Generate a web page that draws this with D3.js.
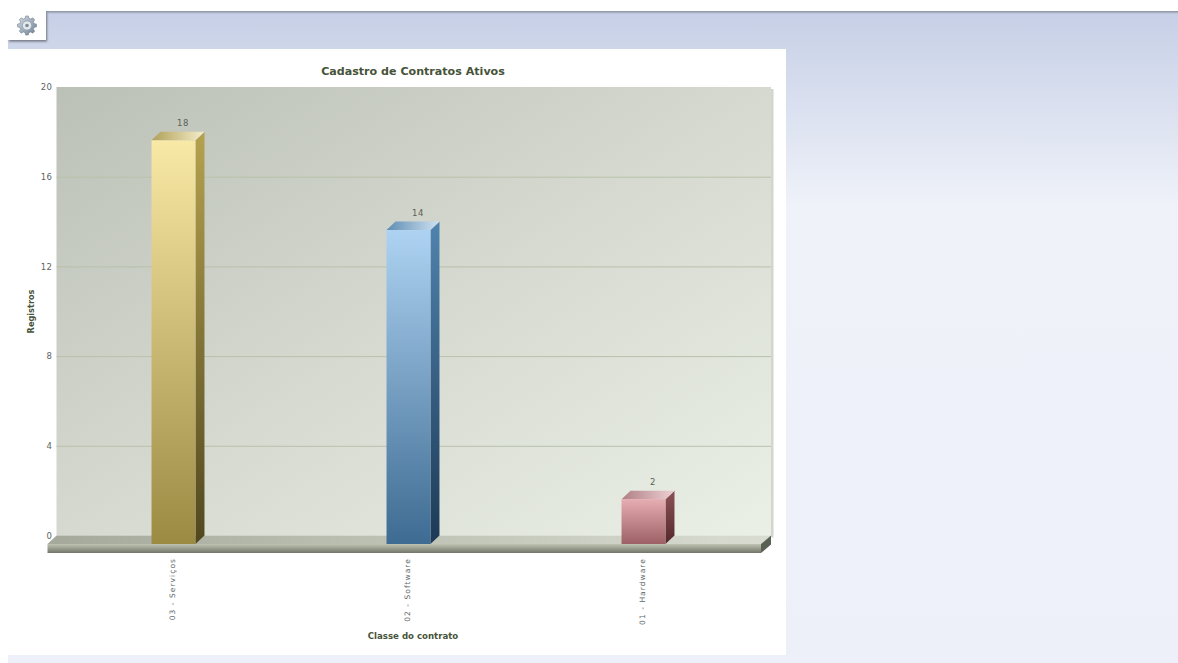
<!DOCTYPE html>
<html>
<head>
<meta charset="utf-8">
<script src="https://cdn.jsdelivr.net/npm/d3@7"></script>
<style>
  html, body { margin: 0; padding: 0; background: #fff; overflow: hidden; }
  text { font-family: "DejaVu Sans", sans-serif; }
</style>
</head>
<body>
<div id="chart"></div>
<script>
const categories = ['03 - Serviços', '02 - Software', '01 - Hardware'];
const values = [18, 14, 2];
const yTicks = [0, 4, 8, 12, 16, 20];
const chartTitle = 'Cadastro de Contratos Ativos';
const xTitle = 'Classe do contrato';
const yTitle = 'Registros';

const barColors = [
  { front: ['#f9e9a6', '#9a8a42'], side: ['#b5a24f', '#51471f'], top: ['#b0a058', '#f5eecb'] },
  { front: ['#aed3f2', '#3e6b92'], side: ['#4f83ae', '#1d3a56'], top: ['#5f8db3', '#cfe2f2'] },
  { front: ['#e6adb2', '#9c6065'], side: ['#8c5257', '#54282c'], top: ['#b07f85', '#edd0d3'] },
];

const width = 1178;
const height = 663;
const svgNS = d3.select('#chart').append('svg').attr('width', width).attr('height', height).style('display', 'block');
const defs = svgNS.append('defs');

const addGradient = (id, stops, x2 = 0, y2 = 1) => {
  const g = defs.append('linearGradient').attr('id', id)
    .attr('x1', 0).attr('y1', 0).attr('x2', x2).attr('y2', y2);
  stops.forEach(([offset, color]) => {
    g.append('stop').attr('offset', offset).attr('stop-color', color);
  });
};

addGradient('pageBg', [[0, '#c6cfe6'], [0.3, '#eff2f9'], [1, '#edf0f9']]);
addGradient('wallBg', [[0, '#bcc1b7'], [0.5, '#d5d9cf'], [1, '#ebf0e7']], 1, 1);
addGradient('floorTop', [[0, '#a5a99c'], [1, '#d9dcd0']], 1, 0);
addGradient('floorFront', [[0, '#bfc3b2'], [1, '#72766a']]);
addGradient('iconGear', [[0, '#d5dce4'], [1, '#6d8095']], 1, 1);
defs.append('filter').attr('id', 'softShadow').attr('x', '-20%').attr('y', '-20%').attr('width', '140%').attr('height', '140%')
  .append('feGaussianBlur').attr('stdDeviation', 1);
barColors.forEach((c, i) => {
  addGradient(`front${i}`, [[0, c.front[0]], [1, c.front[1]]]);
  addGradient(`side${i}`, [[0, c.side[0]], [1, c.side[1]]]);
  addGradient(`top${i}`, [[0, c.top[0]], [1, c.top[1]]], 1, 0);
});

// page background
svgNS.append('rect').attr('x', 8).attr('y', 11).attr('width', width - 8).attr('height', height - 11).attr('fill', 'url(#pageBg)');
addGradient('topShadow', [[0, '#8a90a0'], [1, '#c6cfe6']]);
svgNS.append('rect').attr('x', 8).attr('y', 11).attr('width', width - 8).attr('height', 3).attr('fill', 'url(#topShadow)');

// settings button
const icon = svgNS.append('g');
icon.append('rect').attr('x', 9).attr('y', 12).attr('width', 38).attr('height', 29.5).attr('fill', '#70757f').attr('filter', 'url(#softShadow)');
icon.append('rect').attr('x', 7).attr('y', 9).attr('width', 39).attr('height', 31).attr('fill', '#fff');
const teeth = d3.range(8);
const gearPoints = teeth.flatMap((i) => {
  const a = (i / 8) * 2 * Math.PI;
  return [-0.26, -0.14, 0.14, 0.26].map((da, k) => {
    const r = k === 0 || k === 3 ? 7.4 : 9.6;
    const t = a + da;
    return [Math.cos(t) * r, Math.sin(t) * r];
  });
});
const gear = icon.append('g').attr('transform', 'translate(27,25.5)');
gear.append('path').attr('d', d3.line().curve(d3.curveLinearClosed)(gearPoints))
  .attr('fill', 'url(#iconGear)').attr('stroke', '#74838f').attr('stroke-width', 0.6);
gear.append('circle').attr('r', 4.6).attr('fill', '#e4e9ee').attr('stroke', '#8b99a6').attr('stroke-width', 0.7);
gear.append('circle').attr('r', 1.8).attr('fill', '#7c8b9a');

// white chart panel
svgNS.append('rect').attr('x', 8).attr('y', 49).attr('width', 778).attr('height', 606).attr('fill', '#fff');

const dx = 9;
const dy = 8.5;
const wallLeft = 56.5;
const wallRight = 771;

const y = d3.scaleLinear().domain([0, 20]).range([535.5, 87]);
const x = d3.scaleBand().domain(categories).range([56, 761]).paddingInner(0.813).paddingOuter(0.4065);

// back wall
svgNS.append('rect').attr('x', wallRight).attr('y', y(20) + 2).attr('width', 2.5).attr('height', y(0) - y(20))
  .attr('fill', '#d3d6cc');
svgNS.append('rect').attr('x', wallLeft).attr('y', y(20)).attr('width', wallRight - wallLeft).attr('height', y(0) - y(20))
  .attr('fill', 'url(#wallBg)');

// gridlines
svgNS.append('g').selectAll('line').data(yTicks.filter((d) => d > 0 && d < 20)).join('line')
  .attr('x1', wallLeft).attr('x2', wallRight)
  .attr('y1', (d) => y(d) + 0.5).attr('y2', (d) => y(d) + 0.5)
  .attr('stroke', '#b9c1ac').attr('stroke-width', 1);

// y axis labels
const yAxis = d3.axisLeft(y).tickValues(yTicks).tickSize(0).tickPadding(4);
const yAxisG = svgNS.append('g').attr('transform', `translate(${wallLeft},0)`).call(yAxis);
yAxisG.select('.domain').remove();
yAxisG.selectAll('text').attr('font-size', 8.5).attr('fill', '#5d6464').style('letter-spacing', '0.5px');

// floor
const floorY = y(0);
const floorFrontX = wallLeft - dx;
const floorFrontRight = wallRight - dx - 1;
const poly = d3.line().curve(d3.curveLinearClosed);
svgNS.append('path')
  .attr('d', poly([[wallLeft, floorY], [wallRight, floorY], [floorFrontRight, floorY + dy], [floorFrontX, floorY + dy]]))
  .attr('fill', 'url(#floorTop)');
svgNS.append('rect').attr('x', floorFrontX).attr('y', floorY + dy).attr('width', floorFrontRight - floorFrontX).attr('height', 9)
  .attr('fill', 'url(#floorFront)');
svgNS.append('path')
  .attr('d', poly([[floorFrontRight, floorY + dy], [wallRight, floorY], [wallRight, floorY + 9], [floorFrontRight, floorY + dy + 9]]))
  .attr('fill', '#596054');

// bars
const bars = svgNS.append('g').selectAll('g').data(categories).join('g');
bars.each(function (cat, i) {
  const g = d3.select(this);
  const x0 = x(cat);
  const x1 = x0 + x.bandwidth();
  const yTop = y(values[i]) + dy;
  const yBase = y(0) + dy;
  g.append('path')
    .attr('d', poly([[x1, yTop], [x1 + dx, yTop - dy], [x1 + dx, yBase - dy], [x1, yBase]]))
    .attr('fill', `url(#side${i})`);
  g.append('path')
    .attr('d', poly([[x0, yTop], [x0 + dx, yTop - dy], [x1 + dx, yTop - dy], [x1, yTop]]))
    .attr('fill', `url(#top${i})`);
  g.append('rect')
    .attr('x', x0).attr('y', yTop).attr('width', x.bandwidth()).attr('height', yBase - yTop)
    .attr('fill', `url(#front${i})`);
  g.append('text')
    .attr('x', x0 + x.bandwidth() / 2 + 9.5).attr('y', yTop - dy - 5.5)
    .attr('text-anchor', 'middle').attr('font-size', 8.5).attr('fill', '#5a6254')
    .style('letter-spacing', '0.7px')
    .text(values[i]);
});

// category labels
svgNS.append('g').selectAll('text').data(categories).join('text')
  .attr('transform', (d) => `translate(${x(d) + x.bandwidth() / 2 + 1},558) rotate(-90)`)
  .attr('text-anchor', 'end').attr('font-size', 7.5).attr('fill', '#5d666a')
  .style('letter-spacing', '1.05px')
  .text((d) => d);

// titles
svgNS.append('text').attr('x', 413).attr('y', 75)
  .attr('text-anchor', 'middle').attr('font-size', 11.1).attr('font-weight', 'bold').attr('fill', '#465339')
  .text(chartTitle);
svgNS.append('text').attr('x', 413).attr('y', 639)
  .attr('text-anchor', 'middle').attr('font-size', 8.6).attr('font-weight', 'bold').attr('fill', '#465339')
  .text(xTitle);
svgNS.append('text').attr('transform', 'translate(34,311.5) rotate(-90)')
  .attr('text-anchor', 'middle').attr('font-size', 8.2).attr('font-weight', 'bold').attr('fill', '#465339')
  .text(yTitle);
</script>
</body>
</html>
